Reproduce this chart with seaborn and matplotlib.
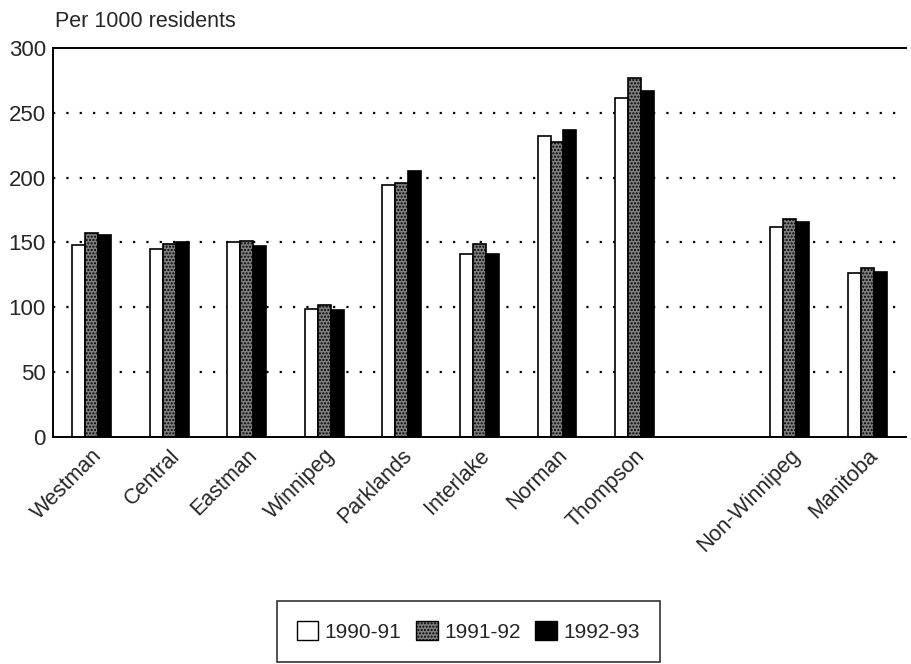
import numpy as np
import pandas as pd
import matplotlib
matplotlib.use("Agg")
import matplotlib.pyplot as plt
import matplotlib.patches as mpatches
import seaborn as sns

# data (per 1000 residents)
regions = ['Westman', 'Central', 'Eastman', 'Winnipeg', 'Parklands',
           'Interlake', 'Norman', 'Thompson', 'Non-Winnipeg', 'Manitoba']
years = ['1990-91', '1991-92', '1992-93']
rate_1990 = [148, 145, 150, 99, 194, 141, 232, 261, 162, 126]
rate_1991 = [157, 149, 151, 102, 196, 149, 227, 277, 168, 130]
rate_1992 = [156, 150, 147, 98, 205, 141, 237, 267, 166, 127]

# blank slot between Thompson and Non-Winnipeg
order = regions[:8] + [' '] + regions[8:]

df = pd.DataFrame({
    'region': regions * 3,
    'year': [years[0]] * 10 + [years[1]] * 10 + [years[2]] * 10,
    'rate': rate_1990 + rate_1991 + rate_1992,
})

sns.set_style('white')
plt.rcParams['font.family'] = ['Liberation Sans', 'DejaVu Sans']

fig = plt.figure(figsize=(9.11, 6.64), dpi=100)
ax = fig.add_axes([0.058, 0.342, 0.9365, 0.586])

face = {'1990-91': 'white', '1991-92': '#808080', '1992-93': 'black'}
sns.barplot(data=df, x='region', y='rate', hue='year', order=order,
            hue_order=years, palette=face, width=0.5, gap=0,
            edgecolor='black', linewidth=1.2, saturation=1,
            errorbar=None, legend=False, ax=ax)

# stipple for the middle series
for bar in ax.containers[1]:
    bar.set_hatch('.....')

ax.set_ylim(0, 300)
ax.set_xlim(-0.5, len(order) - 0.5)
ax.set_yticks(range(0, 301, 50))
ax.tick_params(axis='y', labelsize=16, length=0, pad=5)
ax.tick_params(axis='x', labelsize=15.5, length=0, pad=6)
plt.setp(ax.get_xticklabels(), rotation=45, ha='right', rotation_mode='anchor')
ax.set_xlabel('')
ax.set_ylabel('')

for y in range(50, 300, 50):
    ax.axhline(y, color='black', linestyle=(0, (1, 5)), linewidth=1.6, zorder=0)

for side in ['left', 'bottom', 'top']:
    ax.spines[side].set_color('black')
    ax.spines[side].set_linewidth(1.4)
ax.spines['right'].set_visible(False)

fig.text(0.06, 0.968, 'Per 1000 residents', fontsize=15.5, ha='left', va='center')

handles = [mpatches.Patch(facecolor='white', edgecolor='black', linewidth=1),
           mpatches.Patch(facecolor='#808080', edgecolor='black', linewidth=1, hatch='.....'),
           mpatches.Patch(facecolor='black', edgecolor='black', linewidth=1)]
leg = fig.legend(handles, years, loc='center', bbox_to_anchor=(0.514, 0.049),
                 ncol=3, fontsize=15, frameon=True, fancybox=False,
                 handlelength=1.05, handleheight=1.05, handletextpad=0.3,
                 columnspacing=0.7, borderpad=0.95, borderaxespad=0)
leg.get_frame().set_edgecolor('black')
leg.get_frame().set_linewidth(1.2)

fig.savefig('out.png', dpi=100)
